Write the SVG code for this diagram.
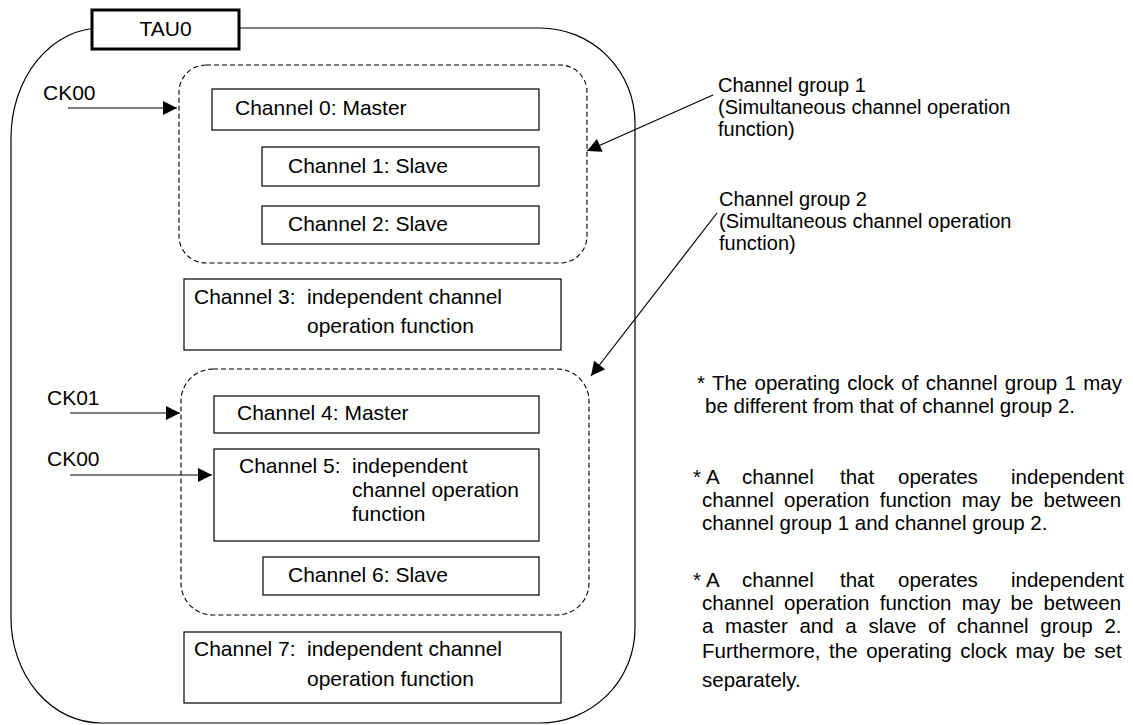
<svg xmlns="http://www.w3.org/2000/svg" width="1133" height="725" viewBox="0 0 1133 725">
<style>
text{font-family:"Liberation Sans",Arial,sans-serif;fill:#000}
.ch{font-size:21px}
.lbl{font-size:20px}
.note{font-size:20.5px}
.box{fill:#fff;stroke:#000;stroke-width:1.2}
.grp{fill:none;stroke:#000;stroke-width:1.1;stroke-dasharray:5 3}
.ln{fill:none;stroke:#000;stroke-width:1.2}
</style>
<defs>
<marker id="ah" viewBox="0 0 10 10" refX="10" refY="5" markerWidth="17" markerHeight="14" markerUnits="userSpaceOnUse" orient="auto">
<path d="M0,0 L10,5 L0,10 z" fill="#000"/>
</marker>
</defs>
<rect width="1133" height="725" fill="#fff"/>
<g id="tau0-frame">
<path class="ln" d="M101,28 L540,28 A95,95 0 0 1 635,123 L635,628 A95,95 0 0 1 540,723 L101,723 A90,105 0 0 1 11,618 L11,138 A90,110 0 0 1 101,28 Z"/>
</g>
<g id="tau0-label">
<rect x="92" y="10" width="147" height="39" fill="#fff" stroke="#000" stroke-width="3"/>
<text class="ch" x="165.5" y="36" text-anchor="middle">TAU0</text>
</g>
<g id="group1">
<rect class="grp" x="179" y="65" width="408" height="198" rx="27" ry="27"/>
</g>
<g id="group2">
<rect class="grp" x="181" y="369" width="408" height="246" rx="32" ry="32"/>
</g>
<g id="ch0"><rect class="box" x="212" y="89" width="327" height="41"/><text class="ch" x="235" y="115">Channel 0: Master</text></g>
<g id="ch1"><rect class="box" x="262" y="147" width="277" height="39"/><text class="ch" x="288" y="173">Channel 1: Slave</text></g>
<g id="ch2"><rect class="box" x="262" y="206" width="277" height="38"/><text class="ch" x="288" y="231">Channel 2: Slave</text></g>
<g id="ch3"><rect class="box" x="184" y="279" width="377" height="71"/><text class="ch" x="194" y="304">Channel 3:</text><text class="ch" x="307" y="304">independent channel</text><text class="ch" x="307" y="333">operation function</text></g>
<g id="ch4"><rect class="box" x="214" y="396" width="325" height="37"/><text class="ch" x="237" y="420">Channel 4: Master</text></g>
<g id="ch5"><rect class="box" x="214" y="449" width="325" height="92"/><text class="ch" x="239" y="473">Channel 5:</text><text class="ch" x="352" y="473">independent</text><text class="ch" x="352" y="497">channel operation</text><text class="ch" x="352" y="521">function</text></g>
<g id="ch6"><rect class="box" x="263" y="557" width="276" height="38"/><text class="ch" x="288" y="582">Channel 6: Slave</text></g>
<g id="ch7"><rect class="box" x="184" y="632" width="377" height="71"/><text class="ch" x="194" y="656">Channel 7:</text><text class="ch" x="307" y="656">independent channel</text><text class="ch" x="307" y="686">operation function</text></g>
<g id="ck-labels">
<text class="ch" x="43" y="100">CK00</text>
<text class="ch" x="47" y="405">CK01</text>
<text class="ch" x="47" y="466">CK00</text>
</g>
<g id="group-labels">
<text class="lbl" x="718" y="92">Channel group 1</text>
<text class="lbl" x="718" y="114">(Simultaneous channel operation</text>
<text class="lbl" x="718" y="136">function)</text>
<text class="lbl" x="719" y="206">Channel group 2</text>
<text class="lbl" x="719" y="228">(Simultaneous channel operation</text>
<text class="lbl" x="719" y="250">function)</text>
</g>
<g id="connectors">
<line class="ln" x1="68" y1="108" x2="177" y2="108" marker-end="url(#ah)"/>
<line class="ln" x1="70" y1="413" x2="180" y2="413" marker-end="url(#ah)"/>
<line class="ln" x1="70" y1="475" x2="212" y2="475" marker-end="url(#ah)"/>
<line class="ln" x1="713" y1="95" x2="587" y2="151" marker-end="url(#ah)"/>
<line class="ln" x1="717" y1="213" x2="591" y2="376" marker-end="url(#ah)"/>
</g>
<g id="notes">
<text class="note" x="697" y="390" style="word-spacing:1.6px">* The operating clock of channel group 1 may</text>
<text class="note" x="705" y="413">be different from that of channel group 2.</text>
<text class="note" y="484"><tspan x="693">*</tspan><tspan x="706">A</tspan><tspan x="742">channel</tspan><tspan x="840">that</tspan><tspan x="898">operates</tspan><tspan x="1011">independent</tspan></text>
<text class="note" x="702" y="507" style="word-spacing:4.5px">channel operation function may be between</text>
<text class="note" x="702" y="530">channel group 1 and channel group 2.</text>
<text class="note" y="587"><tspan x="693">*</tspan><tspan x="706">A</tspan><tspan x="742">channel</tspan><tspan x="840">that</tspan><tspan x="898">operates</tspan><tspan x="1011">independent</tspan></text>
<text class="note" x="702" y="610" style="word-spacing:4.5px">channel operation function may be between</text>
<text class="note" x="702" y="633" style="word-spacing:6px">a master and a slave of channel group 2.</text>
<text class="note" x="702" y="658" style="word-spacing:2.9px">Furthermore, the operating clock may be set</text>
<text class="note" x="702" y="687">separately.</text>
</g>
</svg>
